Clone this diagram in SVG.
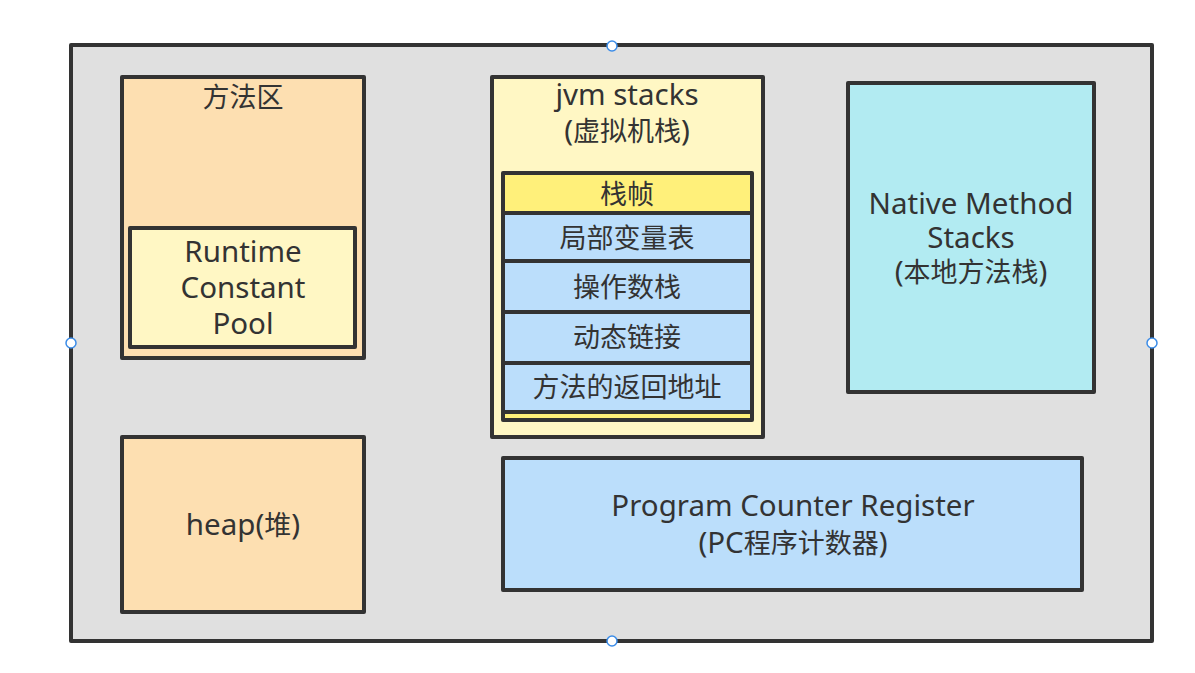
<svg xmlns="http://www.w3.org/2000/svg" width="1195" height="673" viewBox="0 0 1195 673">
  <style>
    .box { stroke: #333333; stroke-width: 4; stroke-linejoin: round; }
    .t { font-family: "Noto Sans", "Noto Sans CJK SC", sans-serif; font-size: 29.5px; fill: #333333; text-anchor: middle; }
    .c { font-size: 27px; }
    .row { stroke: #333333; stroke-width: 4; }
    .handle { fill: #ffffff; stroke: #3b8ce8; stroke-width: 1.5; }
  </style>
  <rect width="1195" height="673" fill="#ffffff"/>
  <g id="container">
    <rect class="box" x="71" y="45" width="1081" height="596" fill="#e0e0e0"/>
  </g>
  <g id="method-area">
    <rect class="box" x="122" y="77" width="242" height="281" fill="#fddfb1"/>
    <text class="t c" x="243" y="107">方法区</text>
  </g>
  <g id="runtime-constant-pool">
    <rect class="box" x="130" y="228" width="225" height="119" fill="#fff7c4"/>
    <text class="t" x="243" y="262">Runtime<tspan x="243" dy="36">Constant</tspan><tspan x="243" dy="36">Pool</tspan></text>
  </g>
  <g id="heap">
    <rect class="box" x="122" y="437" width="242" height="175" fill="#fddfb1"/>
    <text class="t" x="243" y="535">heap(<tspan class="c">堆</tspan>)</text>
  </g>
  <g id="jvm-stacks">
    <rect class="box" x="492" y="77" width="271" height="360" fill="#fff7c4"/>
    <text class="t" x="627" y="105">jvm stacks<tspan x="627" dy="36">(</tspan><tspan class="c">虚拟机栈</tspan>)</text>
  </g>
  <g id="stack-frame">
    <rect class="box" x="503" y="173" width="249" height="247" fill="#fff07a"/>
    <rect x="505" y="215" width="245" height="196" fill="#bbdefb"/>
    <line class="row" x1="503" y1="213" x2="752" y2="213"/>
    <line class="row" x1="503" y1="261" x2="752" y2="261"/>
    <line class="row" x1="503" y1="312" x2="752" y2="312"/>
    <line class="row" x1="503" y1="363" x2="752" y2="363" stroke-width="7"/>
    <line class="row" x1="503" y1="412" x2="752" y2="412"/>
    <line x1="505" y1="415" x2="750" y2="415" stroke="#fff07a" stroke-width="2"/>
    <text class="t c" x="627" y="204">栈帧</text>
    <text class="t c" x="627" y="248">局部变量表</text>
    <text class="t c" x="627" y="297">操作数栈</text>
    <text class="t c" x="627" y="347">动态链接</text>
    <text class="t c" x="627" y="397">方法的返回地址</text>
  </g>
  <g id="native-method-stacks">
    <rect class="box" x="848" y="83" width="246" height="309" fill="#b2ebf2"/>
    <text class="t" x="971" y="214">Native Method<tspan x="971" dy="34">Stacks</tspan><tspan x="971" dy="34">(</tspan><tspan class="c">本地方法栈</tspan>)</text>
  </g>
  <g id="pc-register">
    <rect class="box" x="503" y="458" width="579" height="132" fill="#bbdefb"/>
    <text class="t" x="793" y="516">Program Counter Register<tspan x="793" dy="37">(PC</tspan><tspan class="c">程序计数器</tspan>)</text>
  </g>
  <g id="connectors"></g>
  <g id="handles">
    <circle class="handle" cx="612" cy="46" r="5"/>
    <circle class="handle" cx="71" cy="343" r="5"/>
    <circle class="handle" cx="1152" cy="343" r="5"/>
    <circle class="handle" cx="612" cy="641" r="5"/>
  </g>
</svg>
